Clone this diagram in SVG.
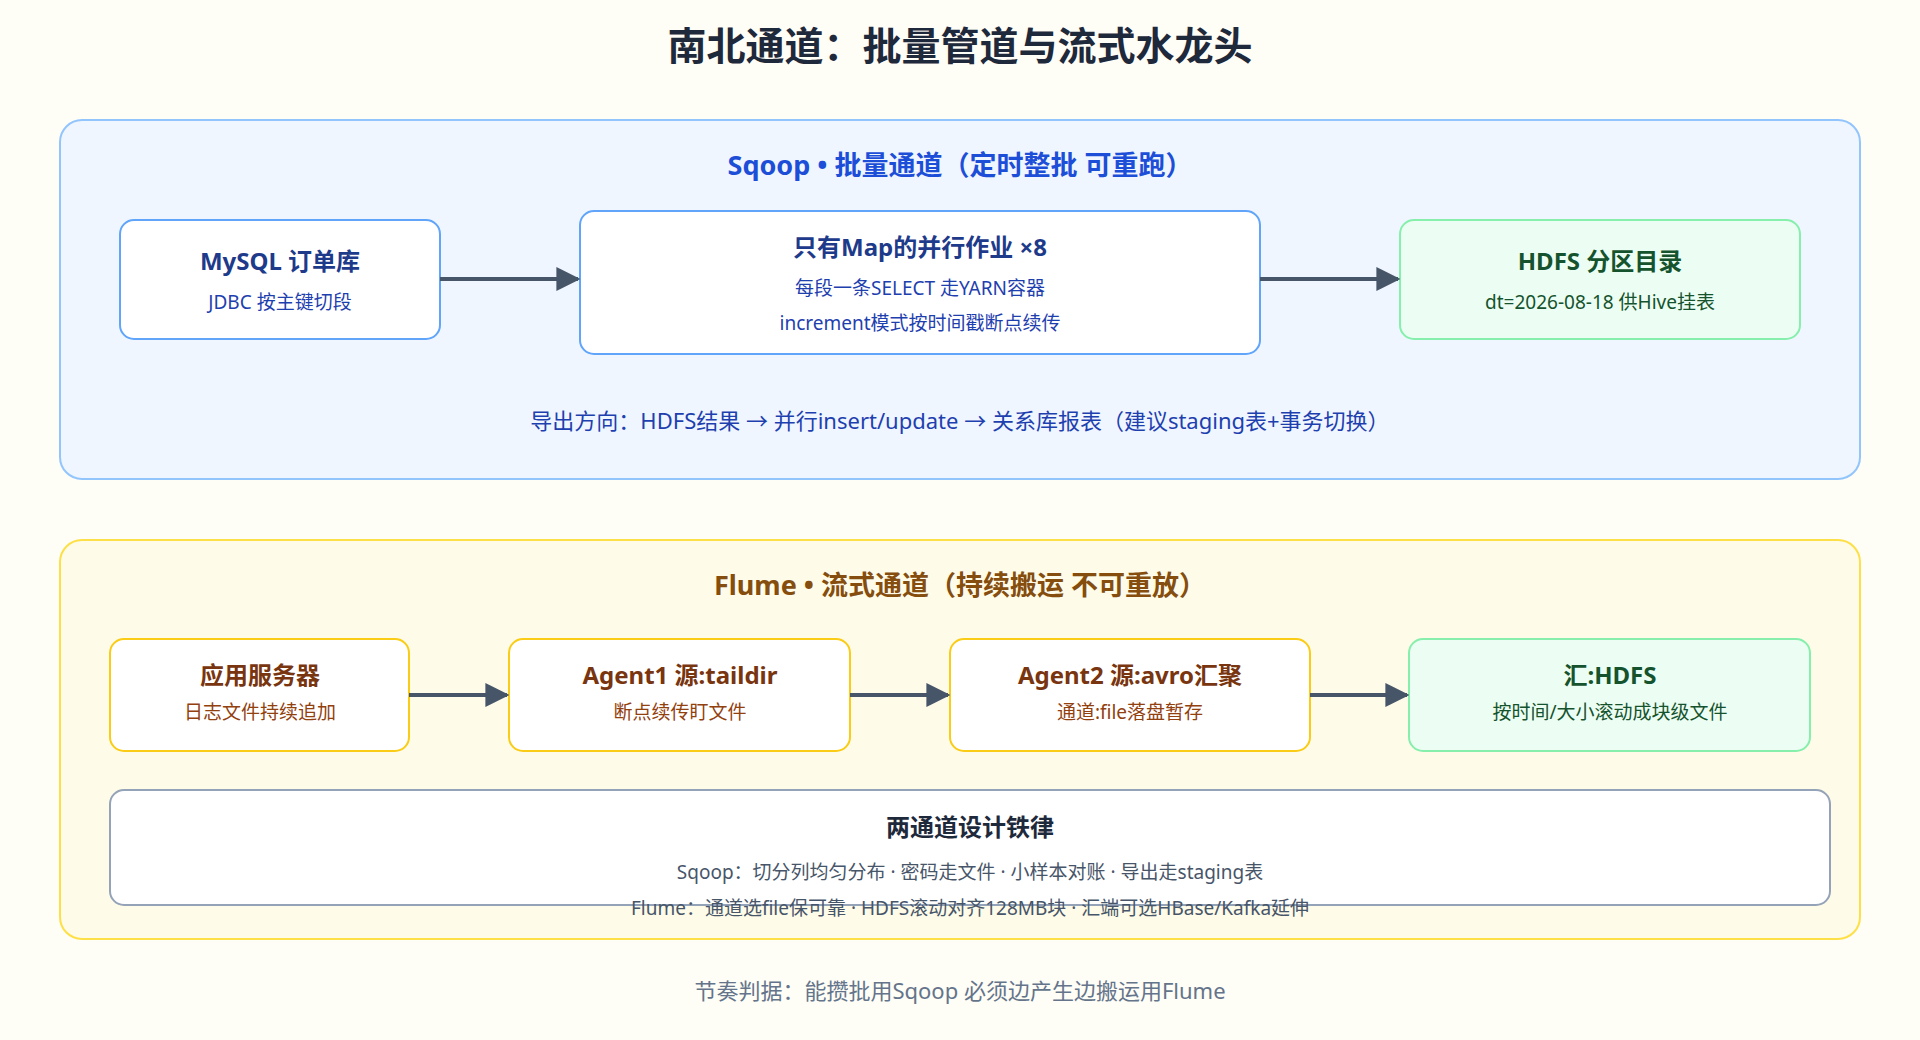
<svg xmlns="http://www.w3.org/2000/svg" width="1920" height="1040" viewBox="0 0 1920 1040">
<defs>
<marker id="ah" viewBox="0 0 10 10" refX="9" refY="5" markerWidth="6" markerHeight="6" orient="auto"><path d="M0,0 L10,5 L0,10 z" fill="#475569"/></marker>
<style>
text{font-family:"Noto Sans","Noto Sans CJK SC",sans-serif;text-anchor:middle}
.t{font-size:24px;font-weight:bold}
.s{font-size:19px}
.bb{fill:#fff;stroke:#60a5fa;stroke-width:2}
.yb{fill:#fff;stroke:#facc15;stroke-width:2}
.gb{fill:#ecfdf3;stroke:#86efac;stroke-width:2}
.c{stroke:#475569;stroke-width:4;fill:none;marker-end:url(#ah)}
</style>
</defs>
<rect width="1920" height="1040" fill="#fefdf6"/>
<text x="960" y="60" font-size="39" font-weight="bold" fill="#1e293b">南北通道：批量管道与流式水龙头</text>
<g id="sqoop-panel">
<rect x="60" y="120" width="1800" height="359" rx="22" fill="#eff6ff" stroke="#93c5fd" stroke-width="2"/>
<text x="960" y="175" font-size="27" font-weight="bold" fill="#1d4ed8">Sqoop • 批量通道（定时整批 可重跑）</text>
<text x="960" y="429" font-size="22" fill="#1e40af">导出方向：HDFS结果 → 并行insert/update → 关系库报表（建议staging表+事务切换）</text>
</g>
<g id="mysql"><rect class="bb" x="120" y="220" width="320" height="119" rx="14"/>
<text class="t" x="280" y="270" fill="#1e3a8a">MySQL 订单库</text><text class="s" x="280" y="309" fill="#1e40af">JDBC 按主键切段</text></g>
<g id="mapjob"><rect class="bb" x="580" y="211" width="680" height="143" rx="14"/>
<text class="t" x="920" y="256" fill="#1e3a8a">只有Map的并行作业 ×8</text>
<text class="s" x="920" y="295" fill="#1e40af">每段一条SELECT 走YARN容器</text>
<text class="s" x="920" y="330" fill="#1e40af">increment模式按时间戳断点续传</text></g>
<g id="hdfs1"><rect class="gb" x="1400" y="220" width="400" height="119" rx="14"/>
<text class="t" x="1600" y="270" fill="#14532d">HDFS 分区目录</text><text class="s" x="1600" y="309" fill="#14532d">dt=2026-08-18 供Hive挂表</text></g>
<g id="flume-panel">
<rect x="60" y="540" width="1800" height="399" rx="22" fill="#fefbe8" stroke="#fde047" stroke-width="2"/>
<text x="960" y="595" font-size="27" font-weight="bold" fill="#854d0e">Flume • 流式通道（持续搬运 不可重放）</text>
</g>
<g id="app"><rect class="yb" x="110" y="639" width="299" height="112" rx="14"/>
<text class="t" x="260" y="684" fill="#78350f">应用服务器</text><text class="s" x="260" y="719" fill="#92400e">日志文件持续追加</text></g>
<g id="agent1"><rect class="yb" x="509" y="639" width="341" height="112" rx="14"/>
<text class="t" x="680" y="684" fill="#78350f">Agent1 源:taildir</text><text class="s" x="680" y="719" fill="#92400e">断点续传盯文件</text></g>
<g id="agent2"><rect class="yb" x="950" y="639" width="360" height="112" rx="14"/>
<text class="t" x="1130" y="684" fill="#78350f">Agent2 源:avro汇聚</text><text class="s" x="1130" y="719" fill="#92400e">通道:file落盘暂存</text></g>
<g id="hdfs2"><rect class="gb" x="1409" y="639" width="401" height="112" rx="14"/>
<text class="t" x="1610" y="684" fill="#14532d">汇:HDFS</text><text class="s" x="1610" y="719" fill="#14532d">按时间/大小滚动成块级文件</text></g>
<g id="rules"><rect x="110" y="790" width="1720" height="115" rx="14" fill="#fff" stroke="#94a3b8" stroke-width="2"/>
<text class="t" x="970" y="836" font-size="22" fill="#1e293b">两通道设计铁律</text>
<text class="s" x="970" y="879" font-size="21" fill="#475569">Sqoop：切分列均匀分布 · 密码走文件 · 小样本对账 · 导出走staging表</text>
<text class="s" x="970" y="915" font-size="21" fill="#475569">Flume：通道选file保可靠 · HDFS滚动对齐128MB块 · 汇端可选HBase/Kafka延伸</text></g>
<text x="960" y="999" font-size="22" fill="#64748b">节奏判据：能攒批用Sqoop 必须边产生边搬运用Flume</text>
<g id="connectors">
<line class="c" x1="440" y1="279" x2="578" y2="279"/>
<line class="c" x1="1260" y1="279" x2="1398" y2="279"/>
<line class="c" x1="409" y1="695" x2="507" y2="695"/>
<line class="c" x1="850" y1="695" x2="948" y2="695"/>
<line class="c" x1="1310" y1="695" x2="1407" y2="695"/>
</g>
</svg>
